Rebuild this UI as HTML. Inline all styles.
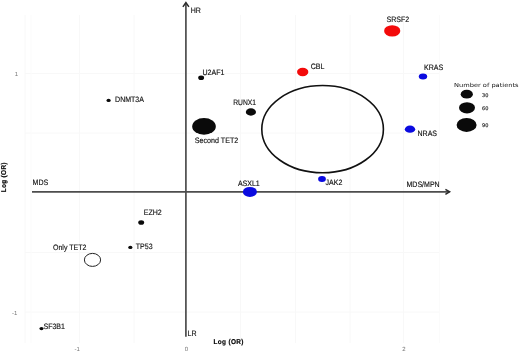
<!DOCTYPE html>
<html><head><meta charset="utf-8">
<style>
html,body{margin:0;padding:0;background:#fff;}
svg{display:block;}
text{font-family:"Liberation Sans",Arial,sans-serif;font-size:7.8px;fill:#111;stroke:#111;stroke-width:0.15px;text-rendering:geometricPrecision;}
.lg{font-family:"DejaVu Sans",Verdana,sans-serif;}
.tk{font-size:5px;fill:#999;stroke:none;}
.ax{font-size:6px;fill:#777;stroke:none;}
.b{font-weight:bold;fill:#000;font-size:7px;stroke:#000;stroke-width:0.15px;}
</style></head><body>
<svg width="520" height="352" viewBox="0 0 520 352">
<rect width="520" height="352" fill="#fff"/>
<g stroke="#f8f8f8" stroke-width="1" fill="none">
<path d="M25 15V343M79.5 15V343M134 15V343M240.5 15V343M295.5 15V343M350 15V343M403.5 15V343"/>
<path d="M25 73.5H439.5M25 133H439.5M25 252.5H439.5M25 312H439.5"/>
<path d="M31 15V343M439.5 15V343" stroke="#fbfbfb"/>
</g>
<g stroke="#4d4d4d" stroke-width="1.5" fill="none">
<path d="M32 191.8H449.5" stroke-width="1.7"/>
<path d="M185.9 336.8V3" stroke-width="1.7"/>
</g>
<g stroke="#2a2a2a" stroke-width="1.5" fill="none">
<path d="M445.4 189.3 L449.6 191.8 L445.4 194.3"/>
<path d="M182.9 6.9 L185.9 2.6 L188.9 6.9"/>
</g>
<ellipse cx="322.6" cy="129.15" rx="60.8" ry="43.6" fill="none" stroke="#111" stroke-width="1.6"/>
<g fill="#0a0a0a">
<ellipse cx="204" cy="126.4" rx="11.8" ry="8.3"/>
<ellipse cx="250.9" cy="112" rx="5.1" ry="3.7"/>
<ellipse cx="201.15" cy="77.7" rx="2.95" ry="2.3"/>
<ellipse cx="108.6" cy="100.4" rx="2.1" ry="1.6"/>
<ellipse cx="141.2" cy="222.55" rx="2.95" ry="2.3"/>
<ellipse cx="130.35" cy="247.45" rx="2.1" ry="1.6"/>
<ellipse cx="41.5" cy="328.6" rx="2.05" ry="1.6"/>
<ellipse cx="466.8" cy="94.2" rx="6.1" ry="4.4"/>
<ellipse cx="467" cy="107.8" rx="8" ry="5.6"/>
<ellipse cx="466.6" cy="124.9" rx="10" ry="7"/>
</g>
<ellipse cx="92.5" cy="259.9" rx="8.1" ry="6.5" fill="#fff" stroke="#222" stroke-width="1"/>
<g fill="#f30a0a">
<ellipse cx="392.2" cy="30.9" rx="8.1" ry="5.7"/>
<ellipse cx="302.7" cy="72" rx="5.65" ry="4.2"/>
</g>
<g fill="#0a0ae0">
<ellipse cx="423" cy="76.4" rx="4.2" ry="3"/>
<ellipse cx="410" cy="129.2" rx="5.2" ry="3.6"/>
<ellipse cx="322" cy="179" rx="3.9" ry="2.9"/>
<ellipse cx="249.9" cy="191.9" rx="7" ry="5"/>
</g>

<text transform="translate(190.7,13.0) scale(0.9,1)">HR</text>
<text transform="translate(187.6,336.1) scale(0.9,1)">LR</text>
<text transform="translate(32.6,185.0) scale(0.9,1)">MDS</text>
<text transform="translate(406.5,187.2) scale(0.9,1)">MDS/MPN</text>
<text transform="translate(202.5,74.7) scale(0.9,1)">U2AF1</text>
<text transform="translate(115.1,101.5) scale(0.9,1)">DNMT3A</text>
<text transform="translate(233.2,104.8) scale(0.86,1)">RUNX1</text>
<text transform="translate(194.8,143.1) scale(0.915,1)">Second TET2</text>
<text transform="translate(310.8,69.4) scale(0.9,1)">CBL</text>
<text transform="translate(386.6,21.9) scale(0.9,1)">SRSF2</text>
<text transform="translate(424,69.5) scale(0.9,1)">KRAS</text>
<text transform="translate(417.5,135.8) scale(0.9,1)">NRAS</text>
<text transform="translate(325.6,185.2) scale(0.9,1)">JAK2</text>
<text transform="translate(237.9,185.5) scale(0.9,1)">ASXL1</text>
<text transform="translate(143.8,215.2) scale(0.9,1)">EZH2</text>
<text transform="translate(135.8,249.0) scale(0.9,1)">TP53</text>
<text transform="translate(53,250.1) scale(0.9,1)">Only TET2</text>
<text transform="translate(43.5,329.1) scale(0.9,1)">SF3B1</text>
<text class="lg" transform="translate(454,87.2) scale(1.19,1)" style="font-size:5.6px;fill:#111;stroke:none">Number of patients</text>
<text class="lg tk" x="482" y="96.8" style="fill:#222;stroke:#222;stroke-width:0.15px">30</text>
<text class="lg tk" x="482" y="109.8" style="fill:#222;stroke:#222;stroke-width:0.15px">60</text>
<text class="lg tk" x="482" y="127.3" style="fill:#222;stroke:#222;stroke-width:0.15px">90</text>
<text class="b" transform="translate(213.6,343.7) scale(0.92,1)" style="letter-spacing:0.35px">Log (OR)</text>
<text class="b" transform="translate(6.4,192.3) rotate(-90) scale(0.92,1)" style="letter-spacing:0.35px">Log (OR)</text>
<text class="ax" x="14.8" y="75.9">1</text>
<text class="ax" x="12" y="314.8">-1</text>
<text class="ax" x="74.6" y="350.6">-1</text>
<text class="ax" x="184.7" y="350.6">0</text>
<text class="ax" x="402.2" y="350.6">2</text>
</svg>
</body></html>
